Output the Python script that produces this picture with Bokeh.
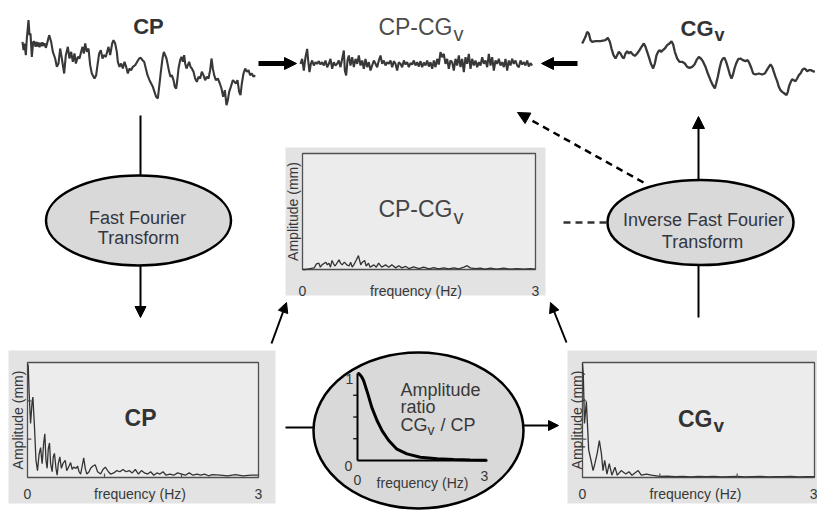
from math import pi
from bokeh.plotting import figure
from bokeh.models import Range1d, Arrow, NormalHead
from bokeh.core.properties import value
from bokeh.embed import file_html
from bokeh.resources import INLINE

# ---------------- data ----------------
# CP time trace (time in s, position in arbitrary mm)
cp_time = [1.2, 1.5, 1.8, 2.2, 2.5, 3.0, 3.3, 3.6, 4.0, 4.4,
           4.8, 5.1, 5.4, 5.7, 6.0, 6.3, 6.6, 6.9, 7.2, 7.5,
           7.8, 8.2, 8.5, 9.2, 9.8, 10.3, 11.0, 11.5, 12.0, 12.5,
           13.0, 13.7, 14.2, 14.8, 15.3, 15.8, 16.3, 16.8, 17.2, 17.8,
           18.3, 18.8, 19.2, 19.6, 20.0, 20.5, 21.0, 21.5, 22.0, 22.8,
           23.3, 23.7, 24.2, 24.7, 25.2, 25.6, 26.2, 26.6, 27.0, 27.5,
           28.1, 28.5, 29.0, 29.5, 29.8, 30.3, 30.8, 31.3, 31.8, 32.3,
           32.8, 33.3, 33.8, 34.3, 35.0, 35.6, 36.2, 36.7, 37.2, 37.7,
           38.2, 38.7, 39.3, 39.8, 40.3, 40.8, 41.3, 41.8, 42.2, 42.7,
           43.2, 43.6, 44.0, 44.4, 44.8, 45.2, 45.6, 46.0, 46.5, 46.9,
           47.3, 47.7, 48.0, 48.5, 48.9, 49.3, 49.7, 50.0, 50.4, 50.8,
           51.2, 51.6, 52.0, 52.5, 53.0, 53.5, 54.0, 54.5, 55.0, 55.5,
           56.0, 56.5, 57.0, 57.5, 57.9, 58.3, 58.7, 59.2, 59.8, 60.4,
           60.9, 61.4, 61.9, 62.4, 62.8, 63.2, 63.7, 64.3, 64.8, 65.2,
           65.7, 66.2, 66.6, 67.0, 67.5, 68.0, 68.5, 69.0, 69.5, 70.0,
           70.5, 71.0]
cp_pos = [20.0, 17.5, 19.5, 16.0, 21.0, 26.5, 22.0, 22.5, 15.5, 20.0,
          20.0, 18.5, 20.0, 18.6, 19.8, 18.4, 19.7, 18.7, 19.9, 18.8,
          19.6, 18.2, 19.2, 22.0, 20.0, 17.0, 15.0, 12.5, 13.5, 18.0,
          15.0, 10.5, 16.0, 18.5, 15.0, 17.0, 14.0, 16.5, 13.5, 15.5,
          15.0, 17.0, 18.5, 16.5, 19.5, 17.0, 18.0, 13.0, 10.5, 9.0,
          10.0, 13.0, 16.5, 17.5, 15.0, 16.0, 15.5, 17.0, 18.5, 16.0,
          19.5, 20.5, 19.5, 17.0, 14.0, 12.5, 13.5, 12.0, 14.0, 12.5,
          10.5, 12.0, 11.5, 12.5, 13.0, 14.0, 15.0, 15.2, 14.5, 14.0,
          12.0, 10.0, 8.5, 7.5, 6.5, 5.0, 3.5, 3.0, 6.5, 11.0,
          15.0, 17.0, 16.0, 15.0, 13.0, 11.0, 9.5, 10.0, 8.5, 6.5,
          6.0, 9.0, 12.0, 14.5, 15.5, 14.0, 16.0, 13.5, 12.0, 13.0,
          14.0, 12.5, 12.0, 11.0, 9.0, 8.0, 9.5, 9.0, 11.0, 10.0,
          8.5, 9.5, 9.0, 11.5, 15.0, 12.0, 10.0, 8.5, 9.0, 7.5,
          6.0, 3.5, 5.5, 1.0, 2.5, 5.0, 6.5, 8.5, 8.0, 7.5,
          8.5, 5.0, 4.0, 7.5, 10.5, 12.0, 11.0, 11.5, 10.0, 10.5,
          9.5, 10.0]

# CP - CGv time trace
diff_time = [1.5, 2.0, 2.5, 3.0, 3.5, 3.8, 4.2, 4.6,
             5.0, 5.5, 6.0, 6.5, 7.0, 7.5, 8.0, 8.5, 9.0, 9.5,
             10.0, 10.5, 11.0, 11.5, 12.0, 12.5, 13.0, 13.5, 14.0, 14.5,
             14.8, 15.2, 15.6,
             16.0, 16.5, 17.0, 17.5, 18.0, 18.5, 19.0, 19.5, 20.0, 20.5,
             21.0, 21.5, 22.0, 22.5, 23.0, 23.5, 24.0, 24.5, 25.0, 25.5,
             26.0, 26.5, 27.0, 27.5, 28.0, 28.5, 29.0, 29.5, 30.0, 30.5,
             31.0, 31.5, 32.0, 32.5, 33.0, 33.5, 34.0, 34.5, 35.0, 35.5,
             36.0, 36.5, 37.0, 37.5, 38.0, 38.5, 39.0, 39.5, 40.0, 40.5,
             41.0, 41.5, 42.0, 42.5, 43.0, 43.5, 44.0, 44.5, 45.0, 45.5,
             46.0, 46.5, 47.0, 47.5, 48.0, 48.5, 49.0, 49.5, 50.0, 50.5,
             51.0, 51.5, 52.0, 52.5, 53.0, 53.5, 54.0, 54.5, 55.0, 55.5,
             56.0, 56.5, 57.0, 57.5, 58.0, 58.5, 59.0, 59.5, 60.0, 60.5,
             61.0, 61.5, 62.0, 62.5, 63.0, 63.5, 64.0, 64.5, 65.0, 65.5,
             66.0, 66.5, 67.0, 67.5, 68.0, 68.5, 69.0, 69.5, 70.0, 70.5,
             71.0]
diff_pos = [6.5, 8.0, 4.5, 8.5, 11.0, 7.5, 4.0, 6.5,
            7.5, 6.0, 7.0, 6.5, 7.3, 6.3, 7.0, 6.0, 7.5, 5.5,
            6.5, 8.0, 5.0, 7.0, 6.0, 6.5, 7.5, 5.5, 8.0, 10.5,
            4.5, 3.0, 7.5,
            9.0, 6.0, 8.5, 5.5, 8.0, 6.5, 9.0, 6.0, 7.5, 5.0,
            8.0, 5.5, 7.0, 4.5, 6.0, 7.5, 6.5, 5.5, 7.5, 9.0,
            6.5, 7.5, 6.0, 7.0, 6.5, 7.5, 5.5, 7.3, 6.5, 4.5,
            7.0, 6.5, 5.5, 7.5, 6.3, 7.0, 5.5, 6.7, 6.3, 7.5,
            6.0, 7.0, 5.7, 7.3, 5.5, 6.9, 6.0, 7.5, 5.7, 7.0,
            5.0, 7.5, 5.5, 8.0, 6.3, 10.0, 8.5, 9.5, 6.5, 8.0,
            5.0, 7.5, 7.0, 4.5, 8.0, 6.0, 9.0, 5.5, 8.0, 4.0,
            8.5, 6.5, 9.5, 5.0, 8.0, 6.0, 7.5, 5.5, 7.0, 6.0,
            8.5, 6.5, 7.5, 5.5, 9.5, 6.0, 8.5, 4.5, 7.5, 6.5,
            8.0, 6.0, 7.0, 5.5, 8.0, 4.5, 7.5, 6.0, 8.0, 6.5,
            7.5, 6.0, 5.5, 7.5, 6.3, 7.0, 6.0, 7.5, 5.7, 6.7,
            6.0]

# CGv time trace
cg_time = [2.0, 2.5, 3.0, 3.5, 4.0, 4.5, 5.0, 6.0, 7.5, 9.0,
           9.7, 10.3, 10.8, 11.4, 12.0, 12.5, 13.0, 13.5, 14.0, 14.5,
           15.0, 15.5, 16.0, 16.5, 17.2, 17.8, 18.5, 19.2, 19.8, 20.5,
           21.0, 21.5, 22.0, 22.6, 23.3, 23.8, 24.3, 24.8, 25.2, 25.7,
           26.2, 26.8, 27.5, 28.2, 28.8, 29.3, 29.8, 30.5, 31.2, 32.0,
           32.8, 33.5, 34.2, 35.0, 35.7, 36.3, 37.0, 37.6, 38.2, 39.0,
           39.7, 40.5, 41.2, 41.8, 42.2, 42.7, 43.2, 43.7, 44.2, 44.7,
           45.2, 45.8, 46.3, 46.8, 47.2, 47.7, 48.2, 48.8, 49.5, 50.2,
           51.0, 51.7, 52.2, 52.8, 53.3, 54.0, 55.0, 56.0, 56.8, 57.4,
           58.0, 58.5, 59.0, 59.5, 60.0, 60.5, 61.0, 61.5, 62.0, 62.7,
           63.3, 63.7, 64.1, 64.6, 65.0, 65.5, 66.0, 66.5, 67.0, 67.5,
           68.0, 68.5, 69.0, 69.5, 70.0, 70.7, 71.2, 71.8]
cg_pos = [19.5, 20.5, 21.5, 23.0, 22.5, 20.5, 20.0, 20.2, 20.2, 20.5,
          21.2, 20.0, 18.0, 16.0, 15.0, 16.0, 17.0, 16.5, 15.5, 15.0,
          16.5, 17.2, 16.5, 17.0, 16.2, 15.8, 16.5, 17.5, 18.5, 19.5,
          18.5, 17.0, 15.5, 13.5, 12.0, 13.5, 16.0, 17.0, 17.5, 17.0,
          17.5, 18.0, 19.0, 19.5, 20.2, 19.2, 17.0, 15.0, 14.0, 14.0,
          13.5, 12.5, 12.2, 12.5, 13.2, 14.5, 15.5, 15.0, 14.2, 12.5,
          10.5, 8.5, 7.0, 6.0, 7.5, 9.5, 12.0, 14.0, 15.0, 15.2,
          14.0, 12.0, 10.2, 9.0, 10.0, 12.0, 13.5, 14.8, 15.0, 14.5,
          14.2, 14.5, 13.5, 12.0, 10.5, 10.2, 10.5, 10.2, 10.5, 11.5,
          12.5, 13.2, 12.5, 11.0, 9.5, 8.2, 6.5, 5.5, 5.0, 4.5,
          4.0, 5.0, 6.8, 8.0, 8.8, 8.5, 8.2, 9.0, 10.0, 10.5,
          11.5, 12.0, 11.8, 11.2, 11.5, 11.5, 11.2, 11.0]

# amplitude spectra (frequency in Hz, normalised amplitude)
cp_freq = [0.00, 0.01, 0.02, 0.04, 0.06, 0.07, 0.09, 0.11, 0.13, 0.15,
           0.17, 0.19, 0.21, 0.225, 0.24, 0.255, 0.27, 0.286, 0.30, 0.32,
           0.335, 0.35, 0.37, 0.385, 0.40, 0.42, 0.44, 0.46, 0.49, 0.51,
           0.54, 0.56, 0.58, 0.60, 0.63, 0.65, 0.67, 0.69, 0.71, 0.73,
           0.75, 0.77, 0.80, 0.82, 0.85, 0.88, 0.91, 0.95, 0.98, 1.01,
           1.05, 1.08, 1.12, 1.16, 1.20, 1.24, 1.28, 1.32, 1.36, 1.40,
           1.44, 1.48, 1.52, 1.56, 1.60, 1.64, 1.68, 1.72, 1.76, 1.80,
           1.85, 1.90, 1.95, 2.00, 2.05, 2.10, 2.15, 2.20, 2.25, 2.30,
           2.35, 2.40, 2.50, 2.60, 2.70, 2.80, 2.90, 3.00]
cp_amp = [0.99, 0.97, 0.75, 0.47, 0.66, 0.70, 0.45, 0.15, 0.06, 0.20,
          0.26, 0.12, 0.30, 0.38, 0.15, 0.08, 0.25, 0.30, 0.12, 0.05,
          0.18, 0.21, 0.08, 0.02, 0.12, 0.18, 0.08, 0.12, 0.15, 0.06,
          0.10, 0.13, 0.07, 0.09, 0.08, 0.10, 0.05, 0.03, 0.10, 0.17,
          0.08, 0.03, 0.05, 0.08, 0.10, 0.11, 0.05, 0.03, 0.07, 0.09,
          0.05, 0.03, 0.04, 0.06, 0.05, 0.07, 0.05, 0.06, 0.04, 0.07,
          0.03, 0.06, 0.04, 0.03, 0.05, 0.02, 0.04, 0.03, 0.05, 0.02,
          0.03, 0.02, 0.04, 0.03, 0.02, 0.04, 0.02, 0.03, 0.02, 0.03,
          0.015, 0.025, 0.02, 0.015, 0.025, 0.015, 0.02, 0.02]

cg_freq = [0.00, 0.01, 0.026, 0.05, 0.08, 0.11, 0.137, 0.16, 0.19, 0.218,
           0.244, 0.265, 0.287, 0.316, 0.346, 0.38, 0.42, 0.45, 0.50, 0.56,
           0.60, 0.64, 0.72, 0.76, 0.83, 0.89, 1.00, 1.10, 1.20, 1.30,
           1.40, 1.50, 1.60, 1.70, 1.80, 1.90, 2.00, 2.10, 2.20, 2.30,
           2.40, 2.50, 2.60, 2.70, 2.80, 2.90, 3.00]
cg_amp = [0.99, 0.90, 0.47, 0.66, 0.24, 0.15, 0.06, 0.12, 0.21, 0.32,
          0.21, 0.06, 0.15, 0.03, 0.12, 0.02, 0.09, 0.02, 0.06, 0.03,
          0.05, 0.02, 0.06, 0.02, 0.03, 0.02, 0.01, 0.012, 0.008, 0.01,
          0.006, 0.01, 0.008, 0.01, 0.006, 0.008, 0.01, 0.006, 0.008, 0.01,
          0.006, 0.008, 0.007, 0.009, 0.006, 0.008, 0.007]

diff_freq = [0.00, 0.04, 0.08, 0.15, 0.18, 0.21, 0.23, 0.25, 0.30, 0.32,
             0.34, 0.36, 0.38, 0.40, 0.42, 0.47, 0.49, 0.51, 0.54, 0.57,
             0.60, 0.62, 0.64, 0.66, 0.69, 0.72, 0.75, 0.77, 0.80, 0.82,
             0.85, 0.87, 0.92, 0.95, 0.98, 1.02, 1.07, 1.11, 1.15, 1.20,
             1.24, 1.28, 1.33, 1.37, 1.43, 1.50, 1.56, 1.63, 1.69, 1.75,
             1.82, 1.88, 1.95, 2.01, 2.08, 2.12, 2.16, 2.23, 2.29, 2.35,
             2.42, 2.50, 2.59, 2.68, 2.76, 2.85, 2.93, 3.00]
diff_amp = [0.0, 0.0, 0.006, 0.014, 0.049, 0.055, 0.02, 0.04, 0.063, 0.04,
            0.055, 0.02, 0.078, 0.049, 0.03, 0.083, 0.055, 0.04, 0.063, 0.04,
            0.03, 0.063, 0.02, 0.04, 0.078, 0.12, 0.04, 0.063, 0.078, 0.03,
            0.055, 0.02, 0.04, 0.02, 0.055, 0.02, 0.04, 0.02, 0.04, 0.014,
            0.033, 0.014, 0.026, 0.008, 0.023, 0.008, 0.02, 0.006, 0.017, 0.006,
            0.014, 0.006, 0.014, 0.006, 0.02, 0.033, 0.014, 0.008, 0.011, 0.003,
            0.011, 0.003, 0.011, 0.003, 0.008, 0.003, 0.008, 0.003]

# amplitude ratio CGv / CP
ratio_freq = [0.0, 0.03, 0.07, 0.11, 0.14, 0.23, 0.33, 0.45, 0.57, 0.72,
              0.91, 1.14, 1.45, 1.84, 2.22, 2.60, 2.98]
ratio_amp = [1.0, 1.0, 0.98, 0.95, 0.92, 0.78, 0.61, 0.46, 0.34, 0.23,
             0.13, 0.076, 0.038, 0.019, 0.011, 0.005, 0.002]

freq_ticks = ["0", "3"]
axis_x_label = "frequency (Hz)"
axis_y_label = "Amplitude (mm)"

# ---------------- figure ----------------
FONT = value("Liberation Sans")
TXT = "#383838"

p = figure(width=817, height=511, x_range=Range1d(0, 817), y_range=Range1d(511, 0),
           output_backend="svg", toolbar_location=None, min_border=0,
           x_axis_location=None, y_axis_location=None)
p.grid.visible = False
p.outline_line_color = None


def sub(xs, ys, xt, yt):
    return p.subplot(x_source=Range1d(*xs), y_source=Range1d(*ys),
                     x_target=Range1d(*xt), y_target=Range1d(*yt))


def label(x, y, s, size, bold=False, align="center", baseline="alphabetic",
          color=TXT, angle=0.0):
    p.text(x=[x], y=[y], text=[s], text_font=FONT, text_font_size=f"{size}px",
           text_font_style="bold" if bold else "normal", text_color=color,
           text_align=align, text_baseline=baseline, angle=angle)


def arrow(x0, y0, x1, y1, lw=2.0, size=10, dash="solid"):
    p.add_layout(Arrow(x_start=x0, y_start=y0, x_end=x1, y_end=y1,
                       line_width=lw, line_color="black", line_dash=dash,
                       end=NormalHead(size=size, fill_color="black",
                                      line_color="black", line_width=1)))


def title_sub(x_right, base, main, size, bold, color, drop=7, vsize=None):
    label(x_right, base, main, size, bold=bold, align="right", color=color)
    label(x_right + 1, base + drop, "v", vsize or int(size * 0.85), bold=bold,
          align="left", color=color)


# ---- top time traces ----
TR = "#383838"
s = sub((0, 72), (0, 30), (18, 258), (108, 8))
s.line(cp_time, cp_pos, line_color=TR, line_width=2.1)
s = sub((0, 72), (0, 13.5), (295, 535), (85, 40))
s.line(diff_time, diff_pos, line_color=TR, line_width=2.1)
s = sub((0, 72), (0, 30), (575, 815), (108, 8))
s.line(cg_time, cg_pos, line_color=TR, line_width=2.3)

label(148, 26, "CP", 22, bold=True, color="#333333")
title_sub(452, 26, "CP-CG", 23, False, "#4d4d4d", drop=7, vsize=20)
title_sub(713, 28, "CG", 22, True, "#333333", drop=6, vsize=18)

arrow(258, 63, 296, 63, lw=5, size=12)
arrow(577, 63, 541, 63, lw=5, size=12)

# ---- ellipses ----
p.ellipse(x=[138], y=[220], width=[185], height=[90], fill_color="#d9d9d9",
          line_color="black", line_width=2.5)
p.ellipse(x=[700], y=[222], width=[186], height=[85], fill_color="#d9d9d9",
          line_color="black", line_width=2.5)
p.ellipse(x=[418], y=[430], width=[210], height=[156], fill_color="#d9d9d9",
          line_color="black", line_width=2.5)

ETXT = "#34363f"
label(137, 217, "Fast Fourier", 18, color=ETXT)
label(138, 237, "Transform", 18, color=ETXT)
label(703, 219, "Inverse Fast Fourier", 18, color=ETXT)
label(702, 241, "Transform", 18, color=ETXT)

# connectors
p.segment(x0=[140], y0=[115], x1=[140], y1=[175], line_color="black", line_width=2)
arrow(140, 265, 140, 317, lw=2, size=11)
arrow(698, 180, 698, 116, lw=2, size=12)
p.segment(x0=[698], y0=[265], x1=[698], y1=[317], line_color="black", line_width=2)
arrow(643, 182, 517, 112, lw=2.5, size=12, dash="7 5")
p.segment(x0=[563], y0=[222], x1=[607], y1=[222], line_color="#333333",
          line_width=2.5, line_dash="7 5")
arrow(271, 343, 286, 302, lw=2, size=10)
arrow(566, 342, 550, 302, lw=2, size=10)
p.segment(x0=[285], y0=[427], x1=[313], y1=[427], line_color="black", line_width=2)
arrow(523, 425, 558, 425, lw=2, size=10)


# ---- spectrum panels ----
def panel(bg, box, freq, amp, ylab_x, base, ticks=True, right_lab=None):
    l, r, t, b = bg
    p.quad(left=[l], right=[r], top=[t], bottom=[b], fill_color="#e3e3e3", line_color=None)
    bl, br, bt, bb = box
    p.quad(left=[bl], right=[br], top=[bt], bottom=[bb], fill_color="#ececec",
           line_color="#505050", line_width=1.3)
    sp = sub((0, 3), (0, 1), (bl, br), (bb, bt))
    sp.line(freq, amp, line_color="#333333", line_width=1.3)
    if ticks:
        sp.segment(x0=[0, 0], y0=[1 / 3, 2 / 3], x1=[0.05, 0.05], y1=[1 / 3, 2 / 3],
                   line_color="#505050", line_width=1.2)
        sp.segment(x0=[1, 2], y0=[0, 0], x1=[1, 2], y1=[0.035, 0.035],
                   line_color="#505050", line_width=1.2)
    label(bl, base, freq_ticks[0], 14, color=TXT)
    if right_lab is None:
        label(br, base, freq_ticks[1], 14, color=TXT)
    else:
        label(right_lab, base, freq_ticks[1], 14, color=TXT, align="right")
    label((bl + br) / 2 - 3, base, axis_x_label, 14, color=TXT)
    label(ylab_x, (bt + bb) / 2, axis_y_label, 14, color=TXT, baseline="middle",
          angle=pi / 2)


panel((285, 545, 147, 295), (302, 535, 153, 269), diff_freq, diff_amp, 292, 290, ticks=False)
panel((8, 275, 350, 503), (27, 258, 362, 477), cp_freq, cp_amp, 17, 493)
panel((567, 830, 350, 503), (582, 814, 362, 477), cg_freq, cg_amp, 576, 493, right_lab=817)

title_sub(452, 208, "CP-CG", 23, False, "#444444", drop=8, vsize=20)
label(140, 417, "CP", 23, bold=True, color="#333333")
title_sub(712, 418, "CG", 23, True, "#333333", drop=7, vsize=19)

# ---- amplitude ratio inside the centre ellipse ----
rs = sub((0, 3), (0, 1), (357, 487), (460, 373))
rs.segment(x0=[0], y0=[0], x1=[0], y1=[1.0], line_color="black", line_width=2)
rs.segment(x0=[0], y0=[0], x1=[3.0], y1=[0], line_color="black", line_width=2)
rs.segment(x0=[-0.1, -0.1, -0.1], y0=[0.25, 0.5, 0.75], x1=[0, 0, 0], y1=[0.25, 0.5, 0.75],
           line_color="black", line_width=1.2)
rs.line(ratio_freq, ratio_amp, line_color="black", line_width=3)
label(349, 378, "1", 14, color=TXT)
label(348, 465, "0", 14, color=TXT)
label(357, 479, "0", 14, color=TXT)
label(484, 475, "3", 14, color=TXT)
label(422, 482, axis_x_label, 14, color=TXT)
label(400, 389, "Amplitude", 18, align="left", color=TXT)
label(400, 406, "ratio", 18, align="left", color=TXT)
label(400, 424, "CG", 18, align="left", color=TXT)
label(427, 429, "v", 14, align="left", color=TXT)
label(440, 424, "/ CP", 18, align="left", color=TXT)

open("out.html", "w").write(file_html(p, INLINE))
